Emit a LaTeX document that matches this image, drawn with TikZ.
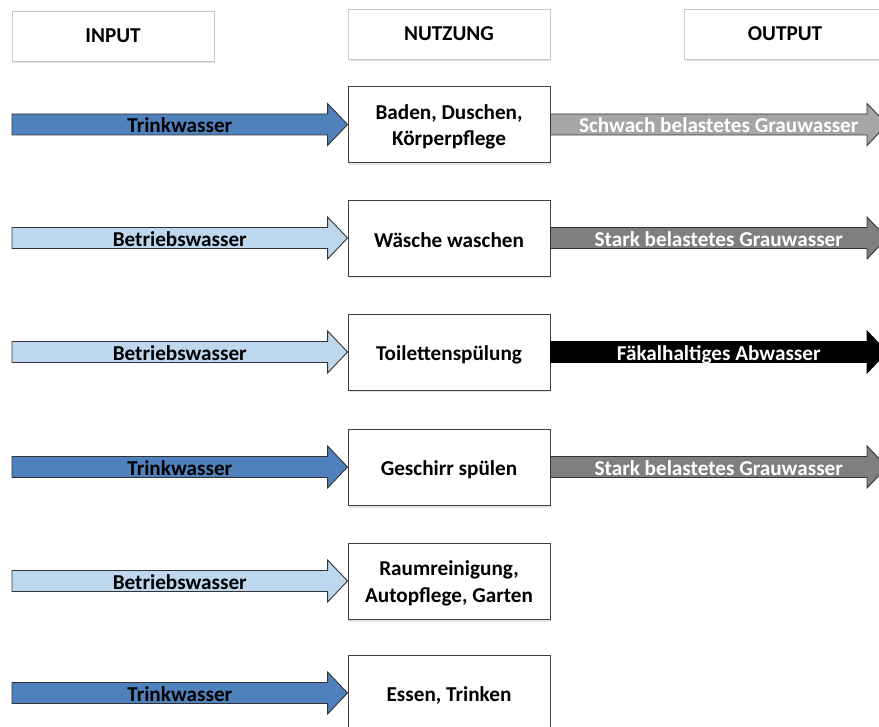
\documentclass[tikz,border=0pt]{standalone}
\usepackage{fontspec}
\setmainfont{Carlito}
\usetikzlibrary{calc,shadows}

% fat block arrow from the point #1 to the point #2, filled with style #3, label #4
\newcommand\blockarrow[4]{%
  \draw[#3] let \p1=(#1), \p2=(#2) in
    (\x1,\y1+10.5pt) -- (\x2-20pt,\y1+10.5pt) -- (\x2-20pt,\y1+21pt) -- (\x2,\y1)
    -- (\x2-20pt,\y1-21pt) -- (\x2-20pt,\y1-10.5pt) -- (\x1,\y1-10.5pt) -- cycle;
  \path (#1) -- (#2) node[midway,#3,arrowtext] {#4};
}

\begin{document}
\begin{tikzpicture}[x=1pt,y=-1pt,
  txt/.style={font=\bfseries\fontsize{21.2}{26.5}\selectfont},
  softshadow/.style={drop shadow={opacity=0.10,shadow xshift=1pt,shadow yshift=-2.5pt,fill=black!60!blue}},
  headbox/.style={draw=black!22,line width=0.8pt,fill=white,minimum width=202pt,minimum height=50pt,
    txt,inner sep=0pt,softshadow},
  usebox/.style={draw=black!75,line width=0.9pt,fill=white,minimum width=202pt,minimum height=76pt,
    inner sep=0pt,softshadow,label={[boxtext]center:#1}},
  boxtext/.style={txt,align=center,inner sep=0pt,yshift=-2.5pt},
  arrowtext/.style={txt,inner sep=0pt,draw=none,fill=none,text height=16.4pt,text depth=4pt,yshift=-2pt},
  drink/.style={fill=drinkblue,draw=black!80,line width=0.9pt,text=black},
  service/.style={fill=serviceblue,draw=black!80,line width=0.9pt,text=black},
  greylight/.style={fill=greyA,draw=black!80,line width=0.9pt,text=white},
  greydark/.style={fill=greyB,draw=black!80,line width=0.9pt,text=white},
  sewage/.style={fill=black,draw=black,line width=0.9pt,text=white},
]
\definecolor{drinkblue}{HTML}{4F81BD}
\definecolor{serviceblue}{HTML}{BDD7EE}
\definecolor{greyA}{HTML}{A6A6A6}
\definecolor{greyB}{HTML}{7F7F7F}

\useasboundingbox (0,0) rectangle (879,727);
\clip (0,0) rectangle (879,727);

% column headers
\node[headbox] (hIn)  at (113,36) {INPUT};
\node[headbox] (hUse) at (449,34) {NUTZUNG};
\node[headbox] (hOut) at (785,34) {OUTPUT};

% uses of water
\node[usebox={Baden, Duschen,\\Körperpflege}] (u1) at (449,124.5) {};
\node[usebox={Wäsche waschen}] (u2) at (449,238) {};
\node[usebox={Toilettenspülung}] (u3) at (449,352) {};
\node[usebox={Geschirr spülen}] (u4) at (449,467) {};
\node[usebox={Raumreinigung,\\Autopflege, Garten}] (u5) at (449,581) {};
\node[usebox={Essen, Trinken}] (u6) at (449,693) {};

% free ends of the input and output arrows
\foreach \i/\y in {1/124.5,2/238,3/352,4/467,5/581,6/693}
  \coordinate (s\i) at (12,\y);
\foreach \i/\y in {1/124.5,2/238,3/352,4/467}
  \coordinate (e\i) at (887,\y);

% input
\blockarrow{s1}{u1.west}{drink}{Trinkwasser}
\blockarrow{s2}{u2.west}{service}{Betriebswasser}
\blockarrow{s3}{u3.west}{service}{Betriebswasser}
\blockarrow{s4}{u4.west}{drink}{Trinkwasser}
\blockarrow{s5}{u5.west}{service}{Betriebswasser}
\blockarrow{s6}{u6.west}{drink}{Trinkwasser}

% output
\blockarrow{u1.east}{e1}{greylight}{Schwach belastetes Grauwasser}
\blockarrow{u2.east}{e2}{greydark}{Stark belastetes Grauwasser}
\blockarrow{u3.east}{e3}{sewage}{Fäkalhaltiges Abwasser}
\blockarrow{u4.east}{e4}{greydark}{Stark belastetes Grauwasser}
\end{tikzpicture}
\end{document}
